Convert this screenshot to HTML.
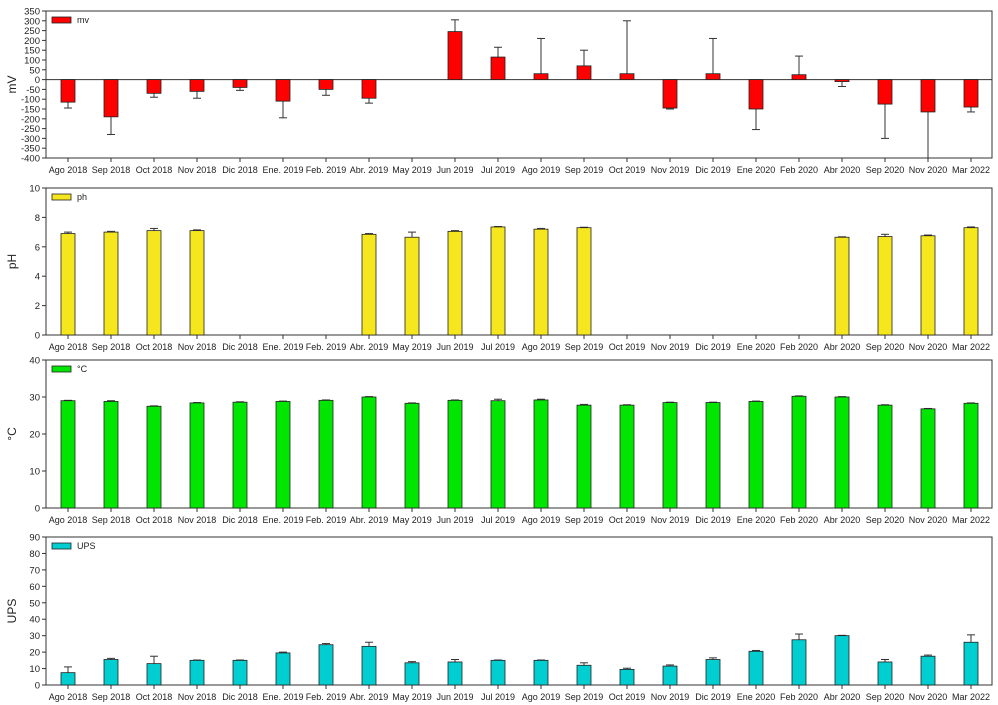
<!DOCTYPE html>
<html><head><meta charset="utf-8"><style>
body{margin:0;background:#fff}
svg{display:block;font-family:"Liberation Sans",Arial,sans-serif}
</style></head><body>
<svg id="s" width="998" height="705" xmlns="http://www.w3.org/2000/svg"></svg>
<script>
const labels=["Ago 2018","Sep 2018","Oct 2018","Nov 2018","Dic 2018","Ene. 2019","Feb. 2019","Abr. 2019","May 2019","Jun 2019","Jul 2019","Ago 2019","Sep 2019","Oct 2019","Nov 2019","Dic 2019","Ene 2020","Feb 2020","Abr 2020","Sep 2020","Nov 2020","Mar 2022"];
const N=null;
const panels=[
{top:11,bot:158,min:-400,max:350,step:50,yl:"mV",leg:"mv",col:"#ff0000",
 v:[[-115,-145],[-190,-280],[-70,-90],[-60,-95],[-40,-55],[-110,-195],[-50,-80],[-95,-120],N,[245,305],[115,165],[30,210],[70,150],[30,300],[-145,-150],[30,210],[-150,-255],[25,120],[-10,-35],[-125,-300],[-165,-420],[-140,-165]]},
{top:188,bot:335,min:0,max:10,step:2,yl:"pH",leg:"ph",col:"#f5e61e",
 v:[[6.9,7.0],[7.0,7.05],[7.1,7.25],[7.1,7.15],N,N,N,[6.85,6.9],[6.65,7.0],[7.05,7.1],[7.35,7.38],[7.2,7.25],[7.3,7.33],N,N,N,N,N,[6.65,6.68],[6.7,6.85],[6.75,6.8],[7.3,7.35]]},
{top:360,bot:508,min:0,max:40,step:10,yl:"°C",leg:"°C",col:"#00e600",
 v:[[29,29.1],[28.8,29],[27.5,27.6],[28.4,28.5],[28.6,28.7],[28.8,28.9],[29.1,29.2],[30,30.1],[28.3,28.4],[29.1,29.2],[29,29.4],[29.2,29.4],[27.8,28],[27.8,27.9],[28.5,28.6],[28.5,28.6],[28.8,28.9],[30.2,30.3],[30,30.1],[27.8,27.9],[26.8,26.9],[28.3,28.4]]},
{top:537,bot:685,min:0,max:90,step:10,yl:"UPS",leg:"UPS",col:"#00ced1",
 v:[[7.5,11],[15.5,16.2],[13,17.5],[15,15.2],[15,15.2],[19.5,20],[24.5,25.2],[23.5,26],[13.5,14.2],[14,15.5],[15,15.2],[15,15.2],[12,13.5],[9.5,10.2],[11.5,12.2],[15.5,16.5],[20.5,21],[27.5,31],[30,30.2],[14,15.5],[17.5,18.2],[26,30.5]]}
];
const L=46,R=992;let h='';
const cx=i=>68+i*43;
for(const p of panels){
 const y=v=>p.bot-(v-p.min)/(p.max-p.min)*(p.bot-p.top);
 const y0=y(Math.max(0,p.min));
 h+=`<rect x="${L}" y="${p.top}" width="${R-L}" height="${p.bot-p.top}" fill="none" stroke="#333" stroke-width="1"/>`;
 for(let t=p.min;t<=p.max;t+=p.step){const yy=y(t);h+=`<line x1="${L-4}" x2="${L}" y1="${yy}" y2="${yy}" stroke="#333"/><text x="${L-6}" y="${yy+3.5}" font-size="9.5" text-anchor="end" fill="#222">${t}</text>`;}
 const my=(p.top+p.bot)/2;
 h+=`<text transform="translate(16,${my}) rotate(-90)" font-size="12" text-anchor="middle" fill="#222">${p.yl}</text>`;
 if(p.min<0)h+=`<line x1="${L}" x2="${R}" y1="${y0}" y2="${y0}" stroke="#333"/>`;
 p.v.forEach((d,i)=>{const x=cx(i);
  h+=`<line x1="${x}" x2="${x}" y1="${p.bot}" y2="${p.bot+4}" stroke="#333"/><text x="${x}" y="${p.bot+15}" font-size="9" text-anchor="middle" fill="#222">${labels[i]}</text>`;
  if(!d)return;const yv=y(d[0]);
  const ey=Math.min(Math.max(y(d[1]),p.top),p.bot);
  h+=`<line x1="${x}" x2="${x}" y1="${yv}" y2="${ey}" stroke="#333"/>`;
  if(y(d[1])>p.top&&y(d[1])<p.bot)h+=`<line x1="${x-4}" x2="${x+4}" y1="${ey}" y2="${ey}" stroke="#333"/>`;
  h+=`<rect x="${x-7}" y="${Math.min(yv,y0)}" width="14" height="${Math.abs(y0-yv)}" fill="${p.col}" stroke="#222" stroke-width="0.8"/>`;
 });
 h+=`<rect x="52" y="${p.top+6}" width="19" height="6" fill="${p.col}" stroke="#222" stroke-width="0.8"/><text x="77" y="${p.top+12}" font-size="9" fill="#222">${p.leg}</text>`;
}
document.getElementById('s').innerHTML=h;
</script>
</body></html>
